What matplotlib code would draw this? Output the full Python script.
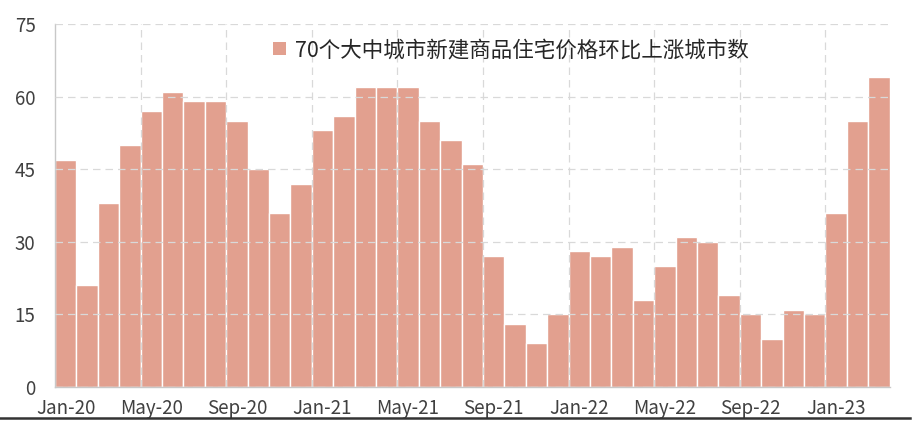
import matplotlib.pyplot as plt
from matplotlib.patches import Patch
from matplotlib.lines import Line2D

plt.rcParams['font.family'] = ['Noto Sans CJK SC', 'DejaVu Sans']

# ============================== data =========================================

months = ["Jan-20", "Feb-20", "Mar-20", "Apr-20", "May-20", "Jun-20", "Jul-20",
          "Aug-20", "Sep-20", "Oct-20", "Nov-20", "Dec-20",
          "Jan-21", "Feb-21", "Mar-21", "Apr-21", "May-21", "Jun-21", "Jul-21",
          "Aug-21", "Sep-21", "Oct-21", "Nov-21", "Dec-21",
          "Jan-22", "Feb-22", "Mar-22", "Apr-22", "May-22", "Jun-22", "Jul-22",
          "Aug-22", "Sep-22", "Oct-22", "Nov-22", "Dec-22",
          "Jan-23", "Feb-23", "Mar-23"]
rising = [47, 21, 38, 50, 57, 61, 59, 59, 55, 45, 36, 42,
          53, 56, 62, 62, 62, 55, 51, 46, 27, 13, 9, 15,
          28, 27, 29, 18, 25, 31, 30, 19, 15, 10, 16, 15,
          36, 55, 64]
label = "70个大中城市新建商品住宅价格环比上涨城市数"
yticks = [0, 15, 30, 45, 60, 75]

BAR_COLOR = "#e2a08f"
TEXT_COLOR = "#404040"
GRID_COLOR = "#d9d9d9"

# ============================== plot =========================================

fig = plt.figure(figsize=(9.19, 4.21), dpi=100)
ax = fig.add_axes([0.0598, 0.0808, 0.9082, 0.8622])

x = list(range(len(months)))
ax.bar(x, rising, width=1.0, color=BAR_COLOR, edgecolor="white",
       linewidth=1.0, zorder=2)

ax.set_xlim(-0.5, len(months) - 0.5)
ax.set_ylim(0, 75)
ax.set_yticks(yticks)

# labels at bar centres, grid lines on the category boundaries
ax.set_xticks(x[::4])
ax.set_xticklabels(months[::4])
ax.set_xticks([i - 0.5 for i in x[::4]][1:], minor=True)
ax.tick_params(axis="both", which="both", length=0, labelsize=13.5,
               labelcolor=TEXT_COLOR)
ax.tick_params(axis="x", pad=8)
ax.tick_params(axis="y", pad=14)

ax.grid(axis="y", which="major", color=GRID_COLOR, linestyle=(0, (6, 4)),
        linewidth=0.9, zorder=3)
ax.grid(axis="x", which="minor", color=GRID_COLOR, linestyle=(0, (6, 4)),
        linewidth=0.9, zorder=3)
ax.set_axisbelow(False)

for side in ["top", "right"]:
    ax.spines[side].set_visible(False)
for side in ["left", "bottom"]:
    ax.spines[side].set_color("#c8c8c8")
    ax.spines[side].set_linewidth(1.0)

handle = Patch(facecolor=BAR_COLOR, edgecolor="none")
ax.legend([handle], [label], loc="center left", bbox_to_anchor=(0.238, 0.928),
          frameon=False, fontsize=15.5, handlelength=0.6, handleheight=0.6,
          handletextpad=0.4, labelcolor="#262626")

# dark rule along the bottom of the figure
fig.add_artist(Line2D([0.0, 0.99], [0.007, 0.007], color="#333333",
                      linewidth=1.8, transform=fig.transFigure))

plt.savefig("out.png", dpi=100)
